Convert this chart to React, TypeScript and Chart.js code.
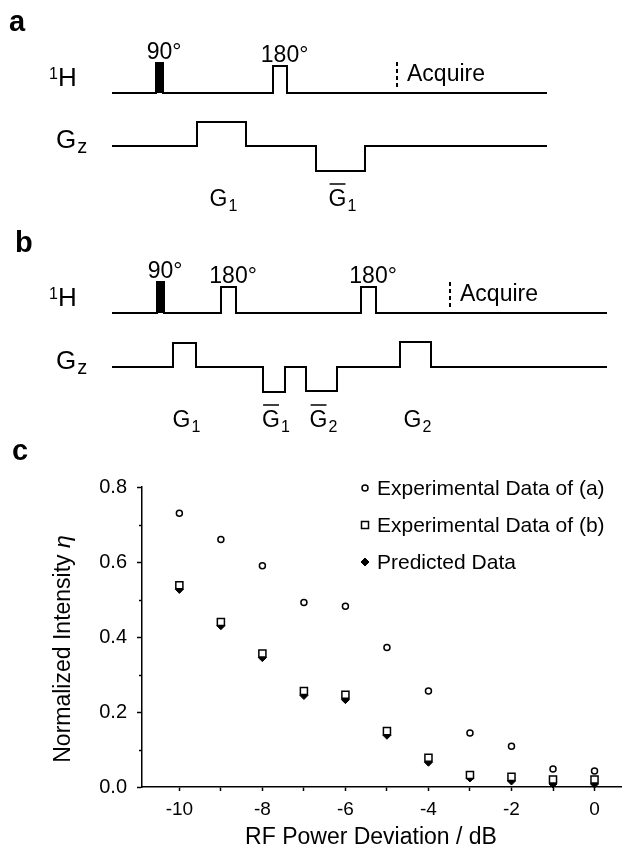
import React, { useEffect, useRef } from 'react';
import { Chart, registerables } from 'chart.js';

Chart.register(...registerables);

const FONT = '"Liberation Sans", Arial, Helvetica, sans-serif';

// ---------------- Data: pulse sequences (time units, amplitude units) ----------------
type RfPulse = { label: string; start: number; end: number; amp: number; filled: boolean };
type GradPulse = { sub: string; bar: boolean; start: number; end: number; amp: number };

const seqARf: RfPulse[] = [
  { label: '90°', start: 8.8, end: 10.2, amp: 30, filled: true },
  { label: '180°', start: 32.2, end: 35.0, amp: 27, filled: false },
];
const seqAGrad: GradPulse[] = [
  { sub: '1', bar: false, start: 17.0, end: 26.8, amp: 24 },
  { sub: '1', bar: true, start: 40.8, end: 50.6, amp: -25 },
];
const seqAAcquire = 57;
const seqAEnd = 87;

const seqBRf: RfPulse[] = [
  { label: '90°', start: 9.0, end: 10.4, amp: 31, filled: true },
  { label: '180°', start: 21.8, end: 24.8, amp: 26, filled: false },
  { label: '180°', start: 49.8, end: 52.8, amp: 26, filled: false },
];
const seqBGrad: GradPulse[] = [
  { sub: '1', bar: false, start: 12.2, end: 16.8, amp: 24 },
  { sub: '1', bar: true, start: 30.2, end: 34.6, amp: -25 },
  { sub: '2', bar: true, start: 38.8, end: 45.0, amp: -24 },
  { sub: '2', bar: false, start: 57.6, end: 63.8, amp: 25 },
];
const seqBAcquire = 67.6;
const seqBEnd = 99;

// ---------------- Data: panel c ----------------
const rfDeviation = [-10, -9, -8, -7, -6, -5, -4, -3, -2, -1, 0];
const expA = [0.73, 0.66, 0.59, 0.492, 0.482, 0.372, 0.256, 0.144, 0.109, 0.048, 0.043];
const expB = [0.538, 0.44, 0.356, 0.256, 0.246, 0.149, 0.078, 0.032, 0.027, 0.02, 0.02];
const predicted = [0.527, 0.43, 0.345, 0.244, 0.233, 0.138, 0.066, 0.024, 0.016, 0.008, 0.008];
const seriesLabels = ['Experimental Data of (a)', 'Experimental Data of (b)', 'Predicted Data'];
const xTickValues = [-10, -9, -8, -7, -6, -5, -4, -3, -2, -1, 0];
const xTickLabels = ['-10', '', '-8', '', '-6', '', '-4', '', '-2', '', '0'];
const yTickValues = [0, 0.2, 0.4, 0.6, 0.8];
const yTickLabels = ['0.0', '0.2', '0.4', '0.6', '0.8'];
const yMinorTicks = [0.1, 0.3, 0.5, 0.7];
const xTitle = 'RF Power Deviation / dB';
const yTitle = 'Normalized Intensity ';
const yTitleSymbol = 'η';

// ---------------- Layout ----------------
const W = 628;
const TOP_H = 440;
const BOT_H = 854 - TOP_H;
const UNIT_PX = 5;
const ORIGIN_X = 112;
const A_RF = 93;
const A_GZ = 146;
const B_RF = 313;
const B_GZ = 367;

type Pt = { x: number; y: number };

function rowPath(pulses: { start: number; end: number; amp: number }[], end: number, base: number): Pt[] {
  const pts: Pt[] = [{ x: 0, y: base }];
  [...pulses].sort((a, b) => a.start - b.start).forEach((p) => {
    pts.push({ x: p.start, y: base }, { x: p.start, y: base - p.amp }, { x: p.end, y: base - p.amp }, { x: p.end, y: base });
  });
  pts.push({ x: end, y: base });
  return pts;
}

function lineDs(data: Pt[], extra: any = {}) {
  return {
    data,
    borderColor: '#000',
    borderWidth: 2,
    pointRadius: 0,
    tension: 0,
    fill: false,
    clip: false,
    borderJoinStyle: 'miter',
    borderCapStyle: 'butt',
    ...extra,
  };
}

function buildTopDatasets() {
  const ds: any[] = [];
  const rows: [RfPulse[], GradPulse[], number, number, number, number][] = [
    [seqARf, seqAGrad, seqAAcquire, seqAEnd, A_RF, A_GZ],
    [seqBRf, seqBGrad, seqBAcquire, seqBEnd, B_RF, B_GZ],
  ];
  rows.forEach(([rf, grad, acq, end, rfBase, gzBase]) => {
    ds.push(lineDs(rowPath(rf, end, rfBase)));
    rf.filter((p) => p.filled).forEach((p) => {
      ds.push(
        lineDs(
          [
            { x: p.start, y: rfBase },
            { x: p.start, y: rfBase - p.amp },
            { x: p.end, y: rfBase - p.amp },
            { x: p.end, y: rfBase },
          ],
          { fill: { value: rfBase }, backgroundColor: '#000' }
        )
      );
    });
    ds.push(lineDs(rowPath(grad, end, gzBase)));
    ds.push(
      lineDs(
        [
          { x: acq, y: rfBase - 6 },
          { x: acq, y: rfBase - 33 },
        ],
        { borderDash: [4, 3] }
      )
    );
  });
  return ds;
}

function drawGLabel(ctx: CanvasRenderingContext2D, cx: number, baseY: number, sub: string, bar: boolean) {
  ctx.font = `23px ${FONT}`;
  const gw = ctx.measureText('G').width;
  ctx.font = `16px ${FONT}`;
  const sw = ctx.measureText(sub).width;
  const left = cx - (gw + sw + 1) / 2;
  ctx.textAlign = 'left';
  ctx.textBaseline = 'alphabetic';
  ctx.font = `23px ${FONT}`;
  ctx.fillText('G', left, baseY);
  ctx.font = `16px ${FONT}`;
  ctx.fillText(sub, left + gw + 1, baseY + 5);
  if (bar) {
    ctx.lineWidth = 1.5;
    ctx.beginPath();
    ctx.moveTo(left + 1, baseY - 22);
    ctx.lineTo(left + gw - 1, baseY - 22);
    ctx.stroke();
  }
}

const topTextPlugin = {
  id: 'topText',
  afterDatasetsDraw(chart: any) {
    const ctx: CanvasRenderingContext2D = chart.ctx;
    const xs = chart.scales.x;
    const ys = chart.scales.y;
    ctx.save();
    ctx.fillStyle = '#000';
    ctx.strokeStyle = '#000';

    // panel letters
    ctx.font = `bold 29px ${FONT}`;
    ctx.textAlign = 'left';
    ctx.textBaseline = 'alphabetic';
    ctx.fillText('a', 9, 31);
    ctx.fillText('b', 15, 252);

    const rows: [RfPulse[], GradPulse[], number, number, number][] = [
      [seqARf, seqAGrad, seqAAcquire, A_RF, A_GZ],
      [seqBRf, seqBGrad, seqBAcquire, B_RF, B_GZ],
    ];
    rows.forEach(([rf, grad, acq, rfBase, gzBase]) => {
      // row labels
      ctx.textAlign = 'left';
      const rfY = ys.getPixelForValue(rfBase);
      const gzY = ys.getPixelForValue(gzBase);
      ctx.font = `16px ${FONT}`;
      ctx.fillText('1', 49, rfY - 14);
      ctx.font = `26px ${FONT}`;
      ctx.fillText('H', 58, rfY - 7);
      const gw = ctx.measureText('G').width;
      ctx.fillText('G', 56, gzY + 2);
      ctx.font = `20px ${FONT}`;
      ctx.fillText('z', 56 + gw + 1, gzY + 7);

      // rf pulse labels
      rf.forEach((p) => {
        const cx = xs.getPixelForValue((p.start + p.end) / 2);
        const topY = ys.getPixelForValue(rfBase - p.amp) - 4;
        ctx.font = `23px ${FONT}`;
        const digits = p.label.replace('°', '');
        const dw = ctx.measureText(digits).width;
        ctx.textAlign = 'left';
        ctx.fillText(p.label, cx - dw / 2, topY);
      });

      // acquire
      ctx.font = `23px ${FONT}`;
      ctx.textAlign = 'left';
      ctx.fillText('Acquire', xs.getPixelForValue(acq + 2), rfY - 12);

      // gradient labels
      grad.forEach((g) => {
        const cx = xs.getPixelForValue((g.start + g.end) / 2) + 2;
        drawGLabel(ctx, cx, gzY + 60, g.sub, g.bar);
      });
    });
    ctx.restore();
  },
};

// ---------------- Panel c decorations ----------------
function drawMarker(ctx: CanvasRenderingContext2D, style: string, x: number, y: number) {
  ctx.save();
  ctx.strokeStyle = '#000';
  ctx.lineWidth = 1.5;
  if (style === 'circle') {
    ctx.fillStyle = '#fff';
    ctx.beginPath();
    ctx.arc(x, y, 3, 0, Math.PI * 2);
    ctx.fill();
    ctx.stroke();
  } else if (style === 'rect') {
    ctx.fillStyle = '#fff';
    ctx.beginPath();
    ctx.rect(x - 3.5, y - 3.5, 7, 7);
    ctx.fill();
    ctx.stroke();
  } else {
    ctx.fillStyle = '#000';
    ctx.lineWidth = 1;
    ctx.beginPath();
    ctx.moveTo(x, y - 4);
    ctx.lineTo(x + 4, y);
    ctx.lineTo(x, y + 4);
    ctx.lineTo(x - 4, y);
    ctx.closePath();
    ctx.fill();
    ctx.stroke();
  }
  ctx.restore();
}

const botTextPlugin = {
  id: 'botText',
  afterDraw(chart: any) {
    const ctx: CanvasRenderingContext2D = chart.ctx;
    const area = chart.chartArea;
    const ys = chart.scales.y;
    ctx.save();
    ctx.fillStyle = '#000';
    ctx.strokeStyle = '#000';

    // minor y ticks
    ctx.lineWidth = 1.5;
    yMinorTicks.forEach((v) => {
      const y = Math.round(ys.getPixelForValue(v)) + 0.5;
      ctx.beginPath();
      ctx.moveTo(area.left - 3, y);
      ctx.lineTo(area.left, y);
      ctx.stroke();
    });

    ctx.font = `bold 29px ${FONT}`;
    ctx.textAlign = 'left';
    ctx.textBaseline = 'alphabetic';
    ctx.fillText('c', 12, 20);

    // x title
    ctx.font = `23px ${FONT}`;
    ctx.textAlign = 'center';
    ctx.textBaseline = 'middle';
    ctx.fillText(xTitle, 371, 398);

    // y title (rotated), with italic symbol
    ctx.translate(64, (area.top + area.bottom) / 2 + 12);
    ctx.rotate(-Math.PI / 2);
    ctx.font = `23px ${FONT}`;
    const w1 = ctx.measureText(yTitle).width;
    ctx.font = `italic 23px ${FONT}`;
    const w2 = ctx.measureText(yTitleSymbol).width;
    const start = -(w1 + w2) / 2;
    ctx.textAlign = 'left';
    ctx.font = `23px ${FONT}`;
    ctx.fillText(yTitle, start, 0);
    ctx.font = `italic 23px ${FONT}`;
    ctx.fillText(yTitleSymbol, start + w1, 0);
    ctx.restore();

    // legend
    ctx.save();
    ctx.fillStyle = '#000';
    ctx.font = `21px ${FONT}`;
    ctx.textAlign = 'left';
    ctx.textBaseline = 'middle';
    chart.data.datasets.forEach((d: any, i: number) => {
      const y = 48 + i * 37;
      drawMarker(ctx, d.pointStyle, 365, y);
      ctx.fillText(d.label, 377, y + 1);
    });
    ctx.restore();
  },
};

export default function App() {
  const topRef = useRef<HTMLCanvasElement>(null);
  const botRef = useRef<HTMLCanvasElement>(null);

  useEffect(() => {
    document.body.style.margin = '0';
    const top = new Chart(topRef.current as HTMLCanvasElement, {
      type: 'line',
      data: { datasets: buildTopDatasets() },
      options: {
        animation: false,
        responsive: false,
        maintainAspectRatio: false,
        events: [],
        layout: { padding: 0 },
        plugins: { legend: { display: false }, tooltip: { enabled: false }, title: { display: false } },
        scales: {
          x: { type: 'linear', display: false, min: -ORIGIN_X / UNIT_PX, max: (W - ORIGIN_X) / UNIT_PX },
          y: { type: 'linear', display: false, min: 0, max: TOP_H, reverse: true },
        },
      } as any,
      plugins: [topTextPlugin],
    });

    const mk = (vals: number[]) => rfDeviation.map((x, i) => ({ x, y: vals[i] }));
    const bot = new Chart(botRef.current as HTMLCanvasElement, {
      type: 'scatter',
      data: {
        datasets: [
          {
            label: seriesLabels[0],
            data: mk(expA),
            pointStyle: 'circle',
            pointRadius: 3,
            pointBorderWidth: 1.5,
            pointBorderColor: '#000',
            pointBackgroundColor: '#fff',
            clip: false,
          },
          {
            label: seriesLabels[1],
            data: mk(expB),
            pointStyle: 'rect',
            pointRadius: 5,
            pointBorderWidth: 1.5,
            pointBorderColor: '#000',
            pointBackgroundColor: '#fff',
            clip: false,
          },
          {
            label: seriesLabels[2],
            data: mk(predicted),
            pointStyle: 'rectRot',
            pointRadius: 4,
            pointBorderWidth: 1,
            pointBorderColor: '#000',
            pointBackgroundColor: '#000',
            clip: false,
          },
        ],
      },
      options: {
        animation: false,
        responsive: false,
        maintainAspectRatio: false,
        events: [],
        layout: { padding: { left: 0, top: 47, right: 2, bottom: 0 } },
        plugins: { legend: { display: false }, tooltip: { enabled: false } },
        scales: {
          x: {
            type: 'linear',
            min: -10.9,
            max: 0.65,
            afterBuildTicks: (s: any) => {
              s.ticks = xTickValues.map((v) => ({ value: v }));
            },
            afterFit: (s: any) => {
              s.height = 67;
            },
            border: { display: true, color: '#000', width: 1.5 },
            grid: {
              display: true,
              drawOnChartArea: false,
              drawTicks: true,
              tickLength: 4,
              tickWidth: 1.5,
              tickColor: '#000',
            },
            ticks: {
              autoSkip: false,
              maxRotation: 0,
              padding: 7,
              color: '#000',
              font: { family: FONT, size: 19 },
              callback: (v: any) => {
                const i = xTickValues.indexOf(Number(v));
                return i >= 0 ? xTickLabels[i] : '';
              },
            },
          },
          y: {
            type: 'linear',
            min: 0,
            max: 0.8,
            afterBuildTicks: (s: any) => {
              s.ticks = yTickValues.map((v) => ({ value: v }));
            },
            afterFit: (s: any) => {
              s.width = 142;
            },
            border: { display: true, color: '#000', width: 1.5 },
            grid: {
              display: true,
              drawOnChartArea: false,
              drawTicks: true,
              tickLength: 5,
              tickWidth: 1.5,
              tickColor: '#000',
            },
            ticks: {
              autoSkip: false,
              padding: 10,
              color: '#000',
              font: { family: FONT, size: 20 },
              callback: (v: any) => {
                const i = yTickValues.findIndex((t) => Math.abs(t - Number(v)) < 1e-9);
                return i >= 0 ? yTickLabels[i] : '';
              },
            },
          },
        },
      } as any,
      plugins: [botTextPlugin],
    });

    return () => {
      top.destroy();
      bot.destroy();
    };
  }, []);

  return (
    <div style={{ position: 'absolute', left: 0, top: 0, width: W, height: 854, background: '#fff' }}>
      <canvas ref={topRef} width={W} height={TOP_H} style={{ position: 'absolute', left: 0, top: 0 }} />
      <canvas ref={botRef} width={W} height={BOT_H} style={{ position: 'absolute', left: 0, top: TOP_H }} />
    </div>
  );
}
